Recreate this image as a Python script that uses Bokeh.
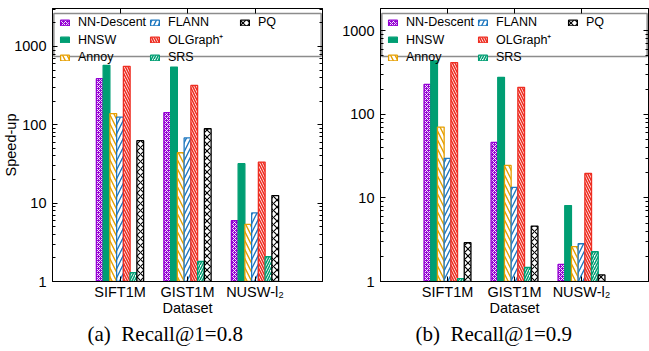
import math
from bokeh.plotting import figure
from bokeh.models import (FixedTicker, LinearAxis, LogAxis, BoxAnnotation, Title,
                          CustomJSTickFormatter, BasicTickFormatter)
from bokeh.layouts import row
from bokeh.embed import file_html
from bokeh.resources import INLINE

datasets = ["SIFT1M", "GIST1M", "NUSW-l\u2082"]
methods = ["NN-Descent", "HNSW", "Annoy", "FLANN", "OLGraph\u207a", "SRS", "PQ"]

# (a) Recall@1 = 0.8
nn_descent_a = [388, 143, 5.96]
hnsw_a = [574, 546, 31.9]
annoy_a = [139, 44, 5.35]
flann_a = [125, 68, 7.5]
olgraph_a = [557, 318, 33.4]
srs_a = [1.30, 1.80, 2.07]
pq_a = [62.7, 89, 12.5]

# (b) Recall@1 = 0.9
nn_descent_b = [229, 46.2, 1.60]
hnsw_b = [437, 278, 8.1]
annoy_b = [70.5, 24.5, 2.61]
flann_b = [29.7, 13.4, 2.83]
olgraph_b = [417, 211, 19.6]
srs_b = [1.08, 1.47, 2.27]
pq_b = [2.91, 4.61, 1.20]

y_major = [1, 10, 100, 1000]
y_minor = [m * d for d in (1, 10, 100, 1000) for m in range(2, 10)]

captions = ["(a)\u00a0 Recall@1=0.8", "(b)\u00a0 Recall@1=0.9"]

PURPLE = "#9400D3"
GREEN = "#009E73"
ORANGE = "#E69F00"
BLUE = "#1F78C0"
RED = "#EE2E22"
BLACK = "#000000"

styles = [
    dict(fill_color=PURPLE, line_color=PURPLE, hatch_pattern="x", hatch_color="white",
         hatch_scale=4, hatch_weight=0.9),
    dict(fill_color=GREEN, line_color=GREEN),
    dict(fill_color="white", line_color=ORANGE, hatch_pattern="\\", hatch_color=ORANGE,
         hatch_scale=9, hatch_weight=1.4),
    dict(fill_color="white", line_color=BLUE, hatch_pattern="/", hatch_color=BLUE,
         hatch_scale=9, hatch_weight=1.4),
    dict(fill_color="white", line_color=RED, hatch_pattern="\\", hatch_color=RED,
         hatch_scale=5, hatch_weight=1.6),
    dict(fill_color="white", line_color=GREEN, hatch_pattern="/", hatch_color=GREEN,
         hatch_scale=5, hatch_weight=1.5),
    dict(fill_color="white", line_color=BLACK, hatch_pattern="x", hatch_color=BLACK,
         hatch_scale=7, hatch_weight=1.1),
]

SANS = "Liberation Sans"
H = 351
TOP = 8
BOTTOM = 70


def panel(series, ymax, caption, width, left, right, ylabel, cap_offset):
    p = figure(width=width, height=H, x_range=(0, 4), y_range=(1, ymax),
               y_axis_type="log", output_backend="svg", toolbar_location=None,
               min_border_left=left, min_border_right=right, min_border_top=TOP,
               min_border_bottom=BOTTOM)
    p.xgrid.visible = False
    p.ygrid.visible = False
    p.outline_line_color = "black"
    p.outline_line_width = 1
    p.background_fill_color = "white"

    # legend box (gnuplot style key box across the top of the frame)
    lt = math.log10(ymax)
    dec = (H - TOP - BOTTOM) / lt
    p.add_layout(BoxAnnotation(left=0.02, right=3.98, bottom=10 ** (lt - 48 / dec),
                               top=10 ** (lt - 5 / dec), fill_color="white", fill_alpha=1,
                               line_color="#8c8c8c", line_width=1.5, line_alpha=1,
                               level="underlay"))

    xs = [i + 1 for i in range(len(datasets))]
    for k, (name, vals, st) in enumerate(zip(methods, series, styles)):
        off = (k - 3) * 0.1
        p.vbar(x=[x + off for x in xs], top=vals, bottom=1, width=0.1,
               line_width=1.3, legend_label=name, **st)

    # x axis
    xa = p.xaxis[0]
    xa.ticker = FixedTicker(ticks=xs)
    xa.major_label_overrides = {x: d for x, d in zip(xs, datasets)}
    xa.axis_label = "Dataset"
    xa.major_tick_in = 5
    xa.major_tick_out = 0
    xa.minor_tick_in = 0
    xa.minor_tick_out = 0
    xa.major_label_standoff = 2
    xa.axis_label_standoff = -3
    xa.major_label_text_font = SANS
    xa.major_label_text_font_size = "14.5px"
    xa.major_label_text_color = "black"
    xa.axis_label_text_font = SANS
    xa.axis_label_text_font_size = "14.5px"
    xa.axis_label_text_font_style = "normal"
    xa.axis_label_text_color = "black"
    xa.axis_line_color = "black"
    xa.major_tick_line_color = "black"

    ya = p.yaxis[0]
    ya.ticker = FixedTicker(ticks=y_major, minor_ticks=y_minor)
    ya.formatter = BasicTickFormatter()
    ya.major_tick_in = 5
    ya.major_tick_out = 0
    ya.minor_tick_in = 3
    ya.minor_tick_out = 0
    ya.major_label_standoff = 6
    ya.major_label_text_font = SANS
    ya.major_label_text_font_size = "14.5px"
    ya.major_label_text_color = "black"
    ya.axis_line_color = "black"
    ya.major_tick_line_color = "black"
    ya.minor_tick_line_color = "black"
    if ylabel:
        ya.axis_label = ylabel
        ya.axis_label_text_font = SANS
        ya.axis_label_text_font_size = "14.5px"
        ya.axis_label_text_font_style = "normal"
        ya.axis_label_text_color = "black"
        ya.axis_label_standoff = -8

    blank = CustomJSTickFormatter(code="return ''")
    ra = LogAxis(ticker=FixedTicker(ticks=y_major, minor_ticks=y_minor), formatter=blank,
                 major_tick_in=5, major_tick_out=0, minor_tick_in=3, minor_tick_out=0,
                 major_label_standoff=0, axis_line_color="black")
    p.add_layout(ra, "right")
    ta = LinearAxis(ticker=FixedTicker(ticks=xs), formatter=blank, major_tick_in=5,
                    major_tick_out=0, minor_tick_in=0, minor_tick_out=0,
                    major_label_standoff=0, axis_line_color="black")
    p.add_layout(ta, "above")

    leg = p.legend[0]
    leg.location = "top_left"
    leg.orientation = "vertical"
    leg.nrows = 3
    leg.margin = 1
    leg.padding = 6
    leg.spacing = 2
    leg.glyph_width = 11
    leg.glyph_height = 7
    leg.label_standoff = 8
    leg.label_height = 12
    leg.label_width = 69
    leg.label_text_font = SANS
    leg.label_text_font_size = "12.5px"
    leg.label_text_color = "black"
    leg.background_fill_alpha = 0
    leg.border_line_alpha = 0

    p.add_layout(Title(text=caption, text_font="Liberation Serif", text_font_size="21px",
                       text_font_style="normal", align="left", offset=cap_offset,
                       standoff=2, text_color="black"), "below")
    return p


p1 = panel([nn_descent_a, hnsw_a, annoy_a, flann_a, olgraph_a, srs_a, pq_a], 3050,
           captions[0], 324, 50, 2, "Speed-up", 35)
p2 = panel([nn_descent_b, hnsw_b, annoy_b, flann_b, olgraph_b, srs_b, pq_b], 1850,
           captions[1], 325, 56, 1, None, 35)

layout = row(p1, p2)
open("out.html", "w").write(file_html(layout, INLINE))
